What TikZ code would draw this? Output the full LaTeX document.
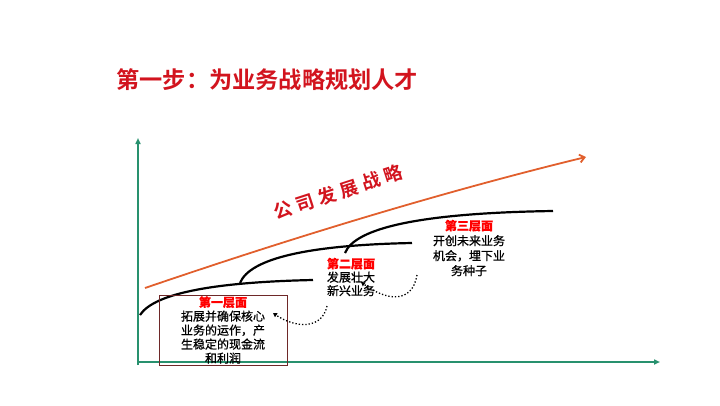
\documentclass[tikz,border=0pt]{standalone}
\usepackage{fontspec}
\setmainfont{Noto Sans CJK SC}[BoldFont={Noto Sans CJK SC Bold}]
\newfontfamily\bodyfont{Noto Sans CJK SC}[FakeBold=0.8]
\usepackage{tikz}
\usetikzlibrary{arrows.meta}
\usepackage{xcolor}
\definecolor{titlered}{RGB}{210,20,30}
\definecolor{axisgreen}{RGB}{40,145,110}
\definecolor{trendorange}{RGB}{225,95,45}
\definecolor{boxred}{RGB}{110,40,40}
\tikzset{
  layertext/.style={align=center, font=\fontsize{12}{14}\selectfont\bodyfont},
  growth/.style={line width=2.2pt},
  hint/.style={dotted, line width=1.3pt, -{Triangle[length=4pt,width=4.5pt]}}
}

\begin{document}
\begin{tikzpicture}[x=1pt, y=-1pt]
\useasboundingbox (0,0) rectangle (720,405);
\node[anchor=west, text=titlered, font=\fontsize{23.2}{28}\selectfont\bfseries] (title) at (113,80) {第一步：为业务战略规划人才};
% axes
\draw[axisgreen, line width=1.8pt, -{Triangle[length=6pt,width=5pt]}] (138,365) -- (138,138);
\draw[axisgreen, line width=1.8pt, -{Triangle[length=6pt,width=5pt]}] (138,362) -- (660,362);
% company strategy
\draw[trendorange, line width=1.8pt, -{Straight Barb[length=5pt,width=8pt]}] (145,288) .. controls (300,235) and (450,190) .. (586,157);
\node[rotate=18, text=titlered, font=\fontsize{18.5}{20}\selectfont\bfseries] (strategy) at (338,192)
  {公\hspace{4.5pt}司\hspace{4.5pt}发\hspace{4.5pt}展\hspace{4.5pt}战\hspace{4.5pt}略};
% three growth curves
\draw[growth] (140,315) .. controls (155,292) and (220,282) .. (313,280);
\draw[growth] (240,283) .. controls (250,258) and (310,245) .. (412,243);
\draw[growth] (345,253) .. controls (355,228) and (420,213) .. (553,211);
% layers
\draw[boxred, line width=0.8pt] (159,295) rectangle (287,365);
\node[layertext] (one) at (223,330) {\textcolor{red}{\bfseries 第一层面}\\拓展并确保核心\\业务的运作，产\\生稳定的现金流\\和利润};
\node[layertext, font=\fontsize{12}{13.5}\selectfont\bodyfont] (two) at (351,277) {\textcolor{red}{\bfseries 第二层面}\\发展壮大\\新兴业务};
\node[layertext, font=\fontsize{12}{15}\selectfont\bodyfont] (three) at (469,248) {\textcolor{red}{\bfseries 第三层面}\\开创未来业务\\机会，埋下业\\务种子};
\coordinate (fromtwo) at (327,306);
\coordinate (fromthree) at (417,275);
\draw[hint] (fromtwo) .. controls (322,330) and (295,328) .. (273,313);
\draw[hint] (fromthree) .. controls (412,305) and (385,300) .. (361,282);
\end{tikzpicture}
\end{document}
